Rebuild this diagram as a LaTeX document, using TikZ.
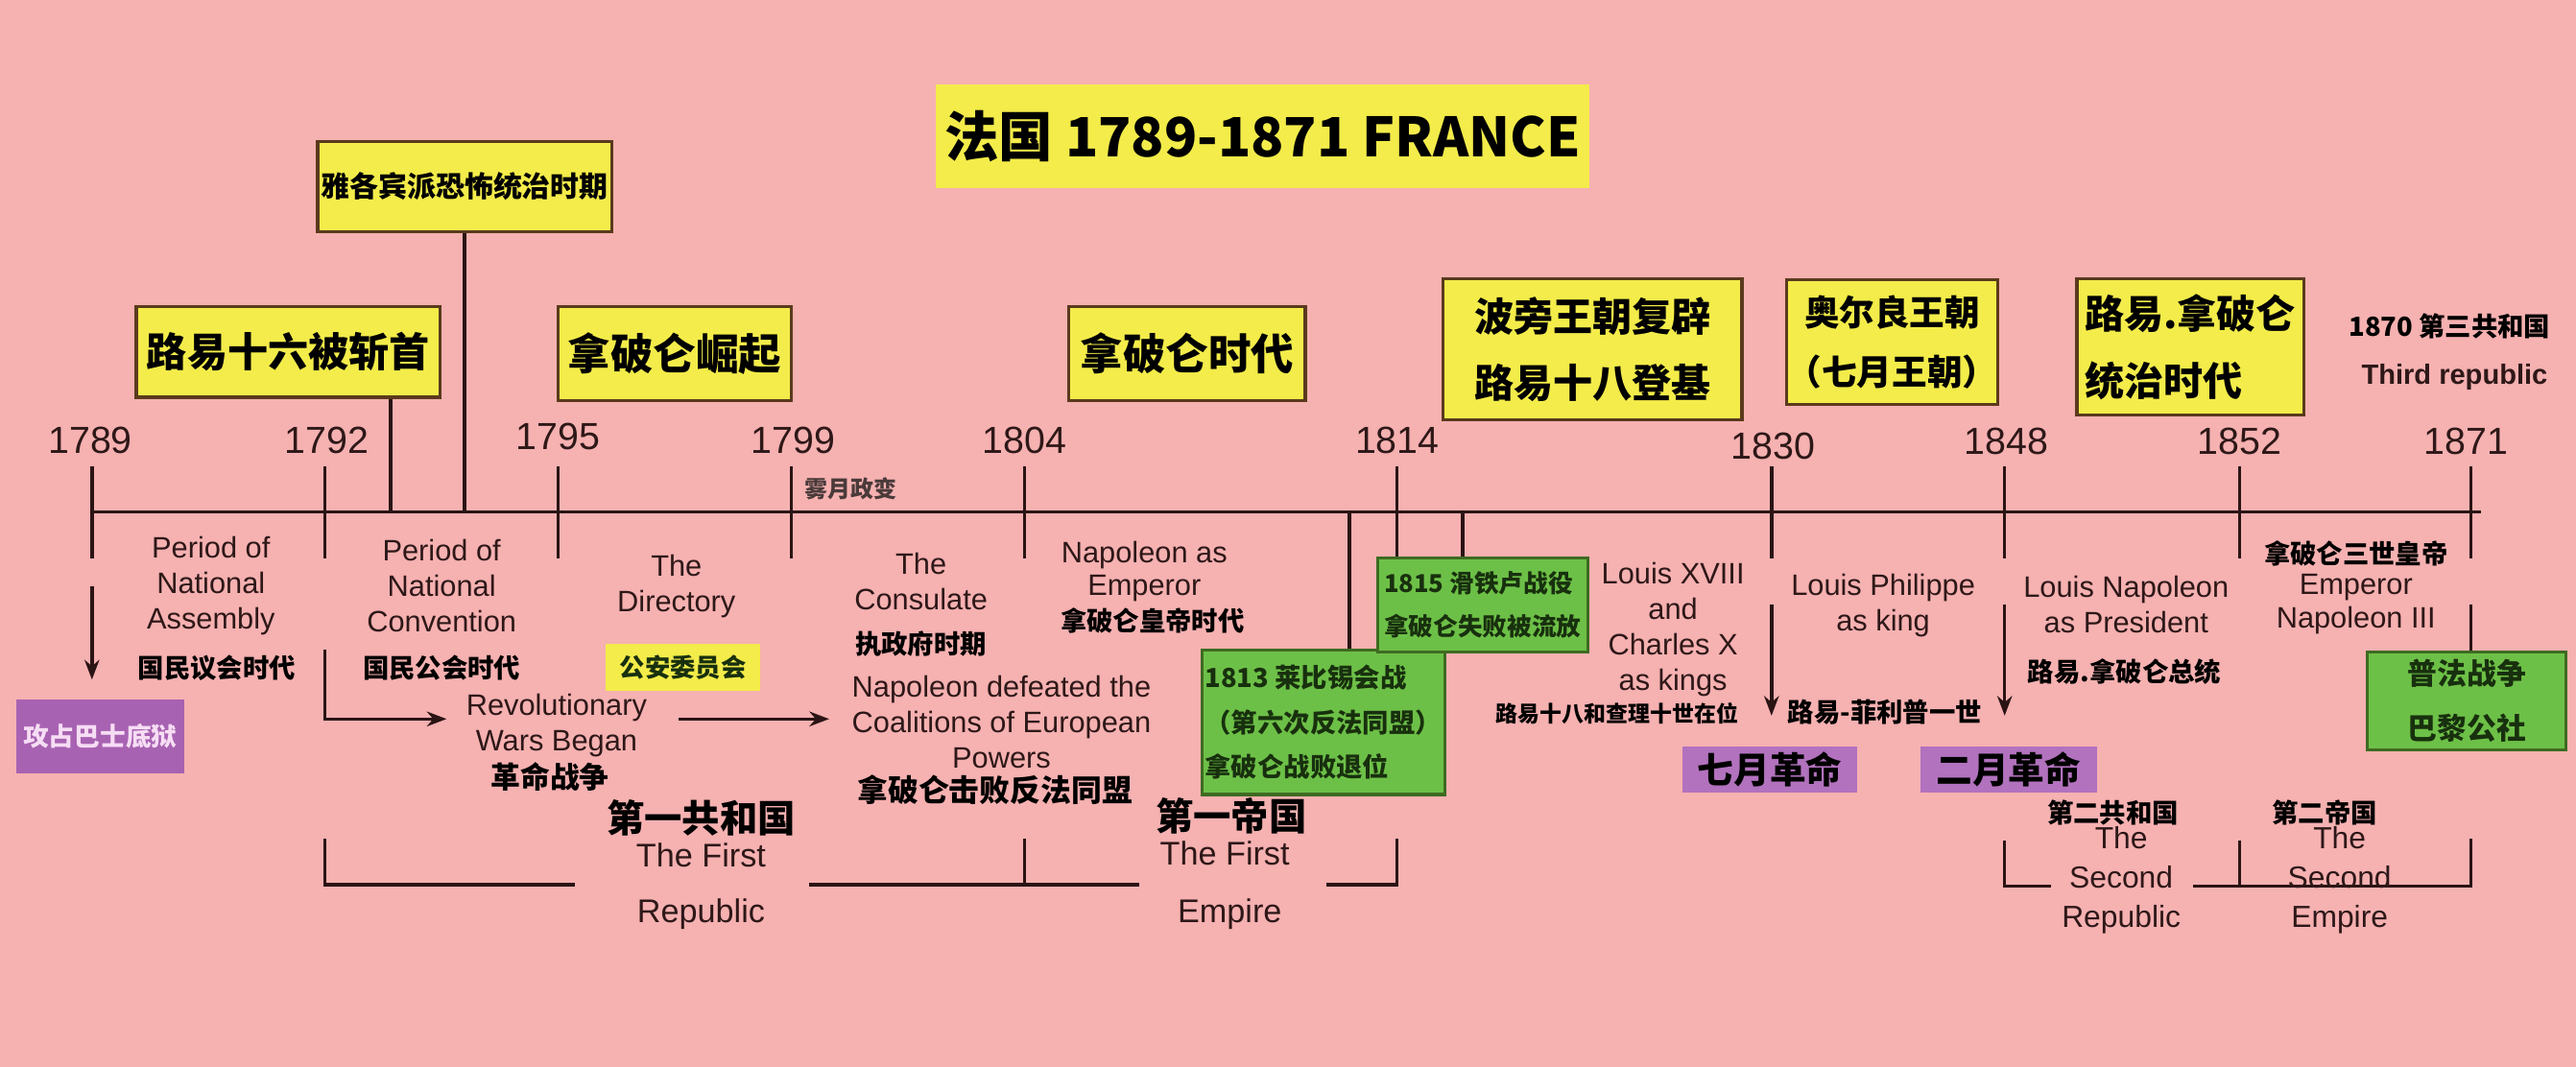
\documentclass[tikz,border=0pt]{standalone}
\usepackage{fontspec}
\setmainfont{Liberation Sans}
\newfontfamily\cjk{Noto Sans CJK SC}
\usetikzlibrary{arrows.meta, positioning}
\definecolor{bgpink}{HTML}{F6B1B1}
\definecolor{boxyellow}{HTML}{F3EC4A}
\definecolor{boxline}{HTML}{5A3A1C}
\definecolor{greenfill}{HTML}{6DC047}
\definecolor{greenline}{HTML}{3E6B22}
\definecolor{greentext}{HTML}{18300E}
\definecolor{purpfill}{HTML}{A862B2}
\definecolor{purplight}{HTML}{B272BE}
\definecolor{purptext}{HTML}{F6DDF4}
\definecolor{inkline}{HTML}{2B1414}
\definecolor{inktext}{HTML}{2E1818}
\definecolor{greytext}{HTML}{4A3A3A}
\tikzset{
  ybox/.style    = {rectangle, draw=boxline, fill=boxyellow, line width=0.9pt,
                    align=center, inner sep=0pt, text=black},
  gbox/.style    = {rectangle, draw=greenline, fill=greenfill, line width=0.9pt,
                    inner sep=0pt, text=greentext},
  pbox/.style    = {rectangle, fill=purpfill, inner sep=0pt},
  hilite/.style  = {rectangle, fill=boxyellow, inner sep=0pt},
  yearlbl/.style = {font=\fontsize{11.5}{13}\selectfont, text=inktext, inner sep=0pt},
  enlbl/.style   = {font=\fontsize{9}{10.8}\selectfont, text=inktext, align=center, inner sep=0pt},
  cnlbl/.style   = {font=\cjk\bfseries\fontsize{#1}{#1}\selectfont, text=black, inner sep=0pt},
  cnlbl/.default = 8,
  eraen/.style   = {font=\fontsize{10}{12}\selectfont, text=inktext, align=center, inner sep=0pt},
  busline/.style = {line width=1pt, draw=inkline},
  flow/.style    = {-{Stealth[length=6pt, width=4.5pt]}, line width=1pt, draw=inkline},
}
\begin{document}
\begin{tikzpicture}[x=0.5pt, y=-0.5pt]
\fill[bgpink] (0,0) rectangle (1569,650);
\useasboundingbox (0,0) rectangle (1569,650);

\node[hilite, minimum width=199pt, minimum height=31.5pt,
      font=\cjk\bfseries\fontsize{16.5}{18}\selectfont]
      (title) at (769,83) {法国 1789-1871 FRANCE};

\node[ybox, minimum width=89.5pt, minimum height=27.5pt,
      font=\cjk\bfseries\fontsize{8.75}{10}\selectfont]
      (terror) at (283,113.5) {雅各宾派恐怖统治时期};
\node[ybox, minimum width=92.5pt, minimum height=27.5pt,
      font=\cjk\bfseries\fontsize{12.3}{14}\selectfont]
      (louis16) at (175.5,214.5) {路易十六被斩首};
\node[ybox, minimum width=71pt, minimum height=28.5pt,
      font=\cjk\bfseries\fontsize{13}{15}\selectfont]
      (rise) at (411,215.5) {拿破仑崛起};
\node[ybox, minimum width=72pt, minimum height=28.5pt,
      font=\cjk\bfseries\fontsize{13}{15}\selectfont]
      (napera) at (723,215.5) {拿破仑时代};
\node[ybox, minimum width=91pt, minimum height=43pt,
      font=\cjk\bfseries\fontsize{12}{20}\selectfont]
      (bourbon) at (970,213) {波旁王朝复辟\\路易十八登基};
\node[ybox, minimum width=62.5pt, minimum height=38pt,
      font=\cjk\bfseries\fontsize{10.7}{18}\selectfont]
      (orleans) at (1152.5,208.5) {奥尔良王朝\\（七月王朝）};
\node[ybox, minimum width=69pt, minimum height=41.5pt, align=left,
      font=\cjk\bfseries\fontsize{12}{20.5}\selectfont]
      (lnapera) at (1334,211.5) {路易.拿破仑\\统治时代};

\node[cnlbl=8] (third) at (1492,199) {1870 第三共和国};
\node[enlbl, font=\bfseries\fontsize{8.5}{10}\selectfont] (thirden) at (1495,230) {Third republic};

\node[yearlbl] (y1789) at (55,268) {1789};
\node[yearlbl] (y1792) at (199,268) {1792};
\node[yearlbl] (y1795) at (340,266) {1795};
\node[yearlbl] (y1799) at (483,268) {1799};
\node[yearlbl] (y1804) at (624,268) {1804};
\node[yearlbl] (y1814) at (851,268) {1814};
\node[yearlbl] (y1830) at (1080,272) {1830};
\node[yearlbl] (y1848) at (1222,269) {1848};
\node[yearlbl] (y1852) at (1364,269) {1852};
\node[yearlbl] (y1871) at (1502,269) {1871};

\coordinate (tl0) at (56,312);
\coordinate (tl1) at (1511,312);
\draw[busline] (tl0) -- (tl1);

\coordinate (k1789a) at (56,284);   \coordinate (k1789b) at (56,340);
\coordinate (k1792a) at (198,284);  \coordinate (k1792b) at (198,340);
\coordinate (k1795a) at (340,284);  \coordinate (k1795b) at (340,340);
\coordinate (k1799a) at (482,284);  \coordinate (k1799b) at (482,340);
\coordinate (k1804a) at (624,284);  \coordinate (k1804b) at (624,340);
\coordinate (k1814a) at (851,284);  \coordinate (k1814b) at (851,340);
\coordinate (k1830a) at (1079,284); \coordinate (k1830b) at (1079,340);
\coordinate (k1848a) at (1221,284); \coordinate (k1848b) at (1221,340);
\coordinate (k1852a) at (1364,284); \coordinate (k1852b) at (1364,340);
\coordinate (k1871a) at (1505,284); \coordinate (k1871b) at (1505,340);
\draw[busline] (k1789a) -- (k1789b);
\draw[busline] (k1792a) -- (k1792b);
\draw[busline] (k1795a) -- (k1795b);
\draw[busline] (k1799a) -- (k1799b);
\draw[busline] (k1804a) -- (k1804b);
\draw[busline] (k1814a) -- (k1814b);
\draw[busline] (k1830a) -- (k1830b);
\draw[busline] (k1848a) -- (k1848b);
\draw[busline] (k1852a) -- (k1852b);
\draw[busline] (k1871a) -- (k1871b);

\coordinate (k16) at (238,312);
\coordinate (kterror) at (283,312);
\draw[busline] (louis16.south -| k16) -- (k16);
\draw[busline] (terror.south) -- (kterror);

\node[cnlbl=7, text=greytext] (brumaire) at (518,298) {雾月政变};

\node[enlbl] (assembly) at (128.5,357) {Period of\\National\\Assembly};
\node[cnlbl] (assemblycn) at (132,407) {国民议会时代};
\node[enlbl] (convention) at (269,357) {Period of\\National\\Convention};
\node[cnlbl] (conventioncn) at (269,407) {国民公会时代};
\node[enlbl] (directory) at (412,357) {The\\Directory};
\node[hilite, minimum width=47pt, minimum height=14.5pt,
      font=\cjk\bfseries\fontsize{7.7}{8}\selectfont, text=greentext]
      (safety) at (416,406.5) {公安委员会};
\node[enlbl] (revwars) at (339,442) {Revolutionary\\Wars Began};
\node[cnlbl=9] (revwarscn) at (335,473) {革命战争};
\node[enlbl] (consulate) at (561,354) {The\\Consulate};
\node[cnlbl] (consulatecn) at (561,392) {执政府时期};
\node[enlbl] (coalition) at (610,440) {Napoleon defeated the\\Coalitions of European\\Powers};
\node[cnlbl=9.3] (coalitioncn) at (606,481) {拿破仑击败反法同盟};
\node[enlbl, font=\fontsize{9}{10}\selectfont] (emperor) at (697,348) {Napoleon as\\Emperor};
\node[cnlbl] (emperorcn) at (702,378) {拿破仑皇帝时代};

\node[pbox, minimum width=51pt, minimum height=22.5pt,
      font=\cjk\bfseries\fontsize{7.8}{8}\selectfont, text=purptext]
      (bastille) at (61,448.5) {攻占巴士底狱};
\coordinate (a1789) at (56,357);
\coordinate (a1789e) at (56,414);
\draw[flow] (a1789) -- (a1789e);
\coordinate (a1792) at (198,396);
\coordinate (a1792e) at (272,438);
\draw[flow] (a1792) |- (a1792e);
\coordinate (a1795) at (413,438);
\coordinate (a1795e) at (505,438);
\draw[flow] (a1795) -- (a1795e);

\node[gbox, minimum width=74pt, minimum height=44pt, align=left,
      font=\cjk\bfseries\fontsize{8}{13.5}\selectfont]
      (leipzig) at (806,440) {1813 莱比锡会战\\（第六次反法同盟）\\拿破仑战败退位};
\node[gbox, minimum width=64pt, minimum height=28.5pt, align=left,
      font=\cjk\bfseries\fontsize{7.5}{13}\selectfont]
      (waterloo) at (903,368.5) {1815 滑铁卢战役\\拿破仑失败被流放};
\coordinate (k1813) at (822,312);
\coordinate (k1815) at (891,312);
\draw[busline] (k1813) -- (leipzig.north -| k1813);
\draw[busline] (k1815) -- (waterloo.north -| k1815);

\node[enlbl] (louis18) at (1019,383.5) {Louis XVIII\\and\\Charles X\\as kings};
\node[cnlbl=6.7] (louis18cn) at (985,435) {路易十八和查理十世在位};
\node[enlbl] (philippe) at (1147,369) {Louis Philippe\\as king};
\node[cnlbl] (philippecn) at (1148,434) {路易-菲利普一世};
\node[enlbl] (president) at (1295,368.5) {Louis Napoleon\\as President};
\node[cnlbl] (presidentcn) at (1294,409) {路易.拿破仑总统};
\node[cnlbl] (nap3cn) at (1435,337) {拿破仑三世皇帝};
\node[enlbl, font=\fontsize{9}{10}\selectfont] (nap3) at (1435,368) {Emperor\\Napoleon III};

\coordinate (a1830) at (1079,368);
\coordinate (a1830e) at (1079,436);
\draw[flow] (a1830) -- (a1830e);
\coordinate (a1848) at (1221,368);
\coordinate (a1848e) at (1221,436);
\draw[flow] (a1848) -- (a1848e);

\node[pbox, fill=purplight, minimum width=53pt, minimum height=14pt,
      font=\cjk\bfseries\fontsize{11}{12}\selectfont]
      (julyrev) at (1078,469) {七月革命};
\node[pbox, fill=purplight, minimum width=53.5pt, minimum height=14pt,
      font=\cjk\bfseries\fontsize{11}{12}\selectfont]
      (febrev) at (1223.5,469) {二月革命};

\node[gbox, minimum width=60.5pt, minimum height=30pt, align=center,
      font=\cjk\bfseries\fontsize{9}{16.5}\selectfont]
      (commune) at (1502.5,427) {普法战争\\巴黎公社};
\coordinate (a1871) at (1505,368);
\draw[busline] (a1871) -- (commune.north -| a1871);

\node[cnlbl=11.5] (rep1cn) at (427,498) {第一共和国};
\node[eraen] (rep1a) at (427,521) {The First};
\node[eraen] (rep1b) at (427,557) {Republic};
\node[cnlbl=11.5] (emp1cn) at (750,497) {第一帝国};
\node[eraen] (emp1a) at (746,520) {The First};
\node[eraen] (emp1b) at (749,557) {Empire};

\coordinate (b1l) at (198,511);  \coordinate (b1lb) at (198,539);
\coordinate (b1a) at (350,539);  \coordinate (b1b) at (493,539);
\coordinate (b1m) at (624,511);  \coordinate (b1mb) at (624,539);
\coordinate (b1c) at (694,539);  \coordinate (b1d) at (808,539);
\coordinate (b1r) at (851,511);  \coordinate (b1rb) at (851,539);
\draw[busline] (b1l) -- (b1lb) -- (b1a);
\draw[busline] (b1b) -- (b1c);
\draw[busline] (b1m) -- (b1mb);
\draw[busline] (b1d) -- (b1rb) -- (b1r);

\coordinate (b2l) at (1221,512);  \coordinate (b2lb) at (1221,540);
\coordinate (b2a) at (1249,540);  \coordinate (b2b) at (1336,540);
\coordinate (b2m) at (1364,512);  \coordinate (b2mb) at (1364,540);
\coordinate (b2r) at (1505,511);  \coordinate (b2rb) at (1505,540);
\draw[busline] (b2l) -- (b2lb) -- (b2a);
\draw[busline] (b2b) -- (b2rb) -- (b2r);
\draw[busline] (b2m) -- (b2mb);

\node[cnlbl] (rep2cn) at (1287,495) {第二共和国};
\node[eraen, font=\fontsize{9.3}{12}\selectfont] (rep2) at (1292,536) {The\\Second\\Republic};
\node[cnlbl] (emp2cn) at (1416,495) {第二帝国};
\node[eraen, font=\fontsize{9.3}{12}\selectfont] (emp2) at (1425,536) {The\\Second\\Empire};
\end{tikzpicture}
\end{document}
